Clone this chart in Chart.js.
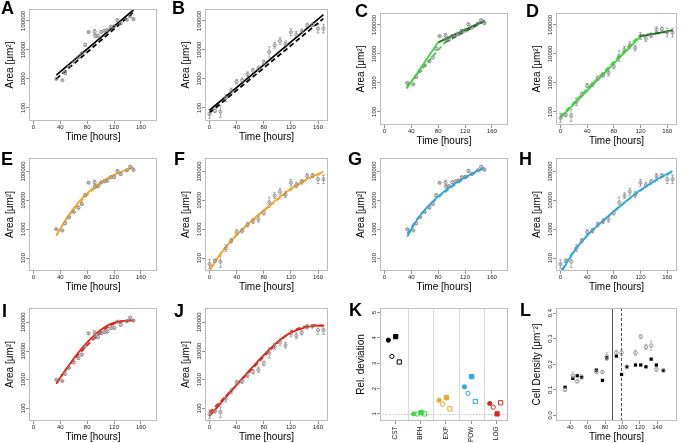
<!DOCTYPE html>
<html><head><meta charset="utf-8"><title>Growth model fits</title>
<script src="https://cdn.jsdelivr.net/npm/chart.js"></script>
<style>
html,body{margin:0;padding:0;background:#fff;overflow:hidden;}
#wrap{position:relative;width:685px;height:443px;overflow:hidden;background:#fff;}
#wrap canvas{position:absolute;}
.plab{position:absolute;font-family:"Liberation Sans",Arial,sans-serif;font-weight:bold;font-size:18px;line-height:18px;color:#000;}
</style></head><body>
<div id="wrap"></div>
<script>
// ---------------- DATA ----------------
const panelLetters = ['A','B','C','D','E','F','G','H','I','J','K','L'];

// data set 1 (panels A, C, E, G, I)
const time1 = [34, 43, 47, 53, 60, 67, 72, 77, 82, 91, 92, 96, 101, 106, 110, 115, 120, 125, 130, 139, 144, 149];
const area1 = [1000, 900, 1600, 2600, 4000, 5600, 7500, 15000, 41000, 42000, 30000, 31000, 42000, 46000, 48000, 63000, 64000, 105000, 82000, 110000, 145000, 115000];
const errLog1 = [0.02, 0.02, 0.04, 0.02, 0.03, 0.04, 0.04, 0.05, 0.03, 0.08, 0.04, 0.04, 0.04, 0.04, 0.04, 0.04, 0.04, 0.04, 0.04, 0.03, 0.04, 0.03];

// data set 2 (panels B, D, F, H, J)
const time2 = [0, 8, 16, 24, 32, 40, 48, 56, 64, 72, 80, 88, 96, 104, 112, 120, 128, 136, 144, 152, 160, 168];
const area2 = [62, 80, 75, 220, 400, 800, 890, 1450, 1900, 2200, 3700, 8500, 14500, 20000, 16000, 41000, 34000, 44000, 70000, 73000, 54000, 54000];
const errLog2 = [0.15, 0.06, 0.2, 0.12, 0.08, 0.08, 0.08, 0.08, 0.08, 0.1, 0.08, 0.18, 0.1, 0.12, 0.1, 0.12, 0.1, 0.08, 0.08, 0.06, 0.15, 0.15];

const areaTickValues = [100, 1000, 10000, 100000];
const areaTickLabels = ['100', '1000', '10000', '100000'];
const timeTickValues = [0, 40, 80, 120, 160];

// fitted curves: [time, area]
const fitCST1 = [[34, 1350], [149, 240000]];
const fitCST1b = [[34, 1000], [149, 200000]];
const fitCST2 = [[0, 83], [168, 165000]];
const fitCST2b = [[0, 68], [168, 120000]];
const fitBPH1p1 = [[33, 640], [80, 25000]];
const fitBPH1p2 = [[80, 25000], [149, 140000]];
const fitBPH1p1b = [[33, 750], [90, 25000]];
const fitBPH1p2b = [[90, 25000], [149, 135000]];
const fitBPH2p1 = [[0, 63], [120, 40000]];
const fitBPH2p2 = [[120, 40000], [168, 66000]];
const fitBPH2p1b = [[0, 70], [118, 42000]];
const fitBPH2p2b = [[118, 42000], [168, 62000]];
const fitEXP1 = [[34, 600], [45, 1660], [55, 3700], [65, 7400], [77, 15100], [90, 28200], [100, 41700], [112, 61700], [124, 85000], [136, 110000], [149, 138000]];
const fitEXP1b = [[34, 630], [45, 1580], [55, 3400], [65, 6600], [77, 13200], [90, 25100], [100, 38000], [112, 57500], [124, 81300], [136, 107000], [149, 138000]];
const fitEXP2 = [[0, 37], [8, 72], [16, 135], [24, 240], [40, 630], [56, 1450], [72, 3160], [88, 6600], [104, 13200], [120, 25100], [144, 55000], [168, 100000]];
const fitEXP2b = [[0, 42], [8, 79], [16, 141], [24, 245], [40, 617], [56, 1380], [72, 2950], [88, 6170], [104, 12300], [120, 23400], [144, 52500], [168, 95500]];
const fitPOW1 = [[34, 560], [45, 1580], [55, 3400], [65, 6300], [77, 12000], [90, 21400], [100, 31600], [112, 49000], [124, 70800], [136, 100000], [149, 138000]];
const fitPOW1b = [[34, 700], [45, 1700], [55, 3400], [65, 6000], [77, 11000], [90, 19500], [100, 29000], [112, 45000], [124, 66000], [136, 93000], [149, 132000]];
const fitPOW2 = [[2, 34], [8, 60], [16, 120], [24, 220], [40, 600], [56, 1350], [72, 2900], [88, 6000], [104, 12000], [120, 23000], [144, 52000], [168, 105000]];
const fitPOW2b = [[2, 38], [8, 66], [16, 128], [24, 230], [40, 610], [56, 1350], [72, 2850], [88, 5800], [104, 11500], [120, 22000], [144, 50000], [168, 100000]];
const fitLOG1 = [[34, 725], [49, 2400], [64, 7240], [80, 19950], [94, 41700], [106, 67600], [118, 93300], [130, 109600], [149, 120000]];
const fitLOG1b = [[34, 760], [49, 2290], [64, 6300], [80, 15800], [94, 33100], [106, 57500], [118, 85100], [130, 104700], [149, 120000]];
const fitLOG2 = [[0, 54], [20, 190], [40, 660], [60, 2240], [80, 7240], [100, 20400], [120, 43700], [140, 66000], [155, 75900], [168, 79400]];
const fitLOG2b = [[0, 71], [20, 214], [40, 660], [60, 2040], [80, 6300], [100, 19000], [120, 45700], [140, 70800], [155, 79400], [168, 74100]];

// panel K: relative deviation per model
const relCategories = ['CST', 'BPH', 'EXP', 'POW', 'LOG'];
const relFilledCircle = [3.91, 1.00, 1.54, 2.07, 1.41];
const relOpenCircle = [3.27, 0.99, 1.38, 1.81, 1.26];
const relFilledSquare = [4.05, 1.05, 1.64, 2.47, 1.00];
const relOpenSquare = [3.05, 1.00, 1.20, 1.49, 1.44];
const relTickValues = [1, 2, 3, 4, 5];
const relReference = 1;

// panel L: cell density
const densTime = [34, 43, 48, 53, 70, 77, 82, 93, 99, 105, 115, 121, 127, 133, 139, 147];
const densBlack = [0.110, 0.145, 0.155, 0.148, 0.177, 0.137, 0.225, 0.232, 0.160, 0.190, 0.197, 0.197, 0.190, 0.220, 0.197, 0.176];
const densGrey = [0.100, 0.155, 0.133, 0.152, 0.170, 0.170, 0.230, 0.245, 0.245, 0.190, 0.245, 0.308, 0.268, 0.273, 0.180, 0.175];
const densGreyErr = [0.005, 0.015, 0.005, 0.005, 0.005, 0.005, 0.015, 0.010, 0.010, 0.005, 0.010, 0.008, 0.010, 0.018, 0.008, 0.005];
const densBreaks = [88, 98];
const densTickValues = [40, 60, 80, 100, 120, 140];
const densYTicks = [0, 0.1, 0.2, 0.3, 0.4];
const densYLabels = ['0.0', '0.1', '0.2', '0.3', '0.4'];

// ---------------- DRAWING ----------------
const FAM = '"Liberation Sans", Arial, Helvetica, sans-serif';
Chart.defaults.font.family = FAM;
Chart.defaults.font.size = 6;
Chart.defaults.color = '#222';

const C_BLACK = '#000000', C_GREEN = '#3cd83c', C_DGREEN = '#1f6e1f', C_ORANGE = '#f2a62c', C_BLUE = '#2aaae2', C_RED = '#e2231f';

const wrap = document.getElementById('wrap');
function mkCanvas(l, t, w, h) {
  const cv = document.createElement('canvas');
  cv.width = w; cv.height = h;
  cv.style.left = l + 'px'; cv.style.top = t + 'px';
  cv.style.width = w + 'px'; cv.style.height = h + 'px';
  wrap.appendChild(cv);
  return cv;
}
const COL_L = [29, 205, 380, 556], COL_R = [157, 328, 508, 677];
function BOX(col, row) {
  let t, b;
  if (row === 0) { t = col < 2 ? 9 : 13; b = t + 112; }
  else if (row === 1) { t = 158; b = 271; }
  else { t = 308; b = 421; }
  return { l: COL_L[col], r: COL_R[col], t, b };
}
const frame = {
  id: 'frame',
  afterDatasetsDraw(ch) {
    const a = ch.chartArea, c = ch.ctx;
    c.save(); c.strokeStyle = '#bdbdbd'; c.lineWidth = 1;
    c.strokeRect(Math.round(a.left) + 0.5, Math.round(a.top) + 0.5, Math.round(a.right - a.left) - 1, Math.round(a.bottom - a.top) - 1);
    c.restore();
  }
};
const errbars = {
  id: 'errbars',
  beforeDatasetsDraw(ch) {
    const c = ch.ctx, xs = ch.scales.x, ys = ch.scales.y, a = ch.chartArea;
    c.save();
    c.beginPath(); c.rect(a.left, a.top, a.right - a.left, a.bottom - a.top); c.clip();
    ch.data.datasets.forEach(ds => {
      if (!ds.errLo) return;
      c.strokeStyle = ds.errColor; c.lineWidth = 0.8;
      ds.data.forEach((p, i) => {
        const x = xs.getPixelForValue(p.x), y1 = ys.getPixelForValue(ds.errLo[i]), y2 = ys.getPixelForValue(ds.errHi[i]);
        c.beginPath();
        c.moveTo(x, y1); c.lineTo(x, y2);
        c.moveTo(x - 1.5, y1); c.lineTo(x + 1.5, y1);
        c.moveTo(x - 1.5, y2); c.lineTo(x + 1.5, y2);
        c.stroke();
      });
    });
    c.restore();
  }
};
function gridCfg() { return { drawOnChartArea: false, drawTicks: true, tickLength: 3, color: '#7a7a7a', lineWidth: 0.8 }; }

function areaPanel(col, row, times, area, errLog, xmax, lines, ymin, ymax) {
  const box = BOX(col, row);
  const cl = box.l - 29, ct = box.t - 9, cw = box.r - cl + 6, ch = box.b - box.t + 9 + 26;
  const cv = mkCanvas(cl, ct, cw, ch);
  const datasets = [{
    data: times.map((t, i) => ({ x: t, y: area[i] })),
    showLine: false, pointRadius: 1.6, pointStyle: 'circle',
    borderColor: '#8a8a8a', backgroundColor: 'rgba(0,0,0,0)', borderWidth: 0.9,
    errLo: area.map((v, i) => v / Math.pow(10, errLog[i])),
    errHi: area.map((v, i) => v * Math.pow(10, errLog[i])),
    errColor: '#9a9a9a'
  }];
  lines.forEach(L => datasets.push({
    data: L.pts.map(p => ({ x: p[0], y: p[1] })),
    showLine: true, pointRadius: 0, borderColor: L.color, borderWidth: 1.8,
    borderDash: L.dash ? [5, 3] : [], cubicInterpolationMode: 'monotone', fill: false
  }));
  new Chart(cv, {
    type: 'scatter',
    data: { datasets },
    options: {
      responsive: false, animation: false, devicePixelRatio: 1,
      layout: { padding: { left: 0, top: 9, right: 6, bottom: 0 } },
      plugins: { legend: { display: false }, tooltip: { enabled: false } },
      scales: {
        x: {
          type: 'linear', min: -6.7, max: xmax,
          afterBuildTicks: s => { s.ticks = timeTickValues.map(v => ({ value: v })); },
          afterFit: s => { s.height = 26; },
          grid: gridCfg(), border: { display: false },
          ticks: { autoSkip: false, maxRotation: 0, padding: 0, font: { size: 6 }, color: '#222', callback: v => String(v) },
          title: { display: true, text: 'Time [hours]', font: { size: 10 }, color: '#000', padding: { top: 0, bottom: 4 } }
        },
        y: {
          type: 'logarithmic', min: ymin, max: ymax,
          afterBuildTicks: s => { s.ticks = areaTickValues.map(v => ({ value: v })); },
          afterFit: s => { s.width = 29; },
          grid: gridCfg(), border: { display: false },
          ticks: { autoSkip: false, minRotation: 90, maxRotation: 90, crossAlign: 'center', padding: -7.3, font: { size: 6 }, color: '#222', callback: (v, i) => areaTickLabels[i] },
          title: { display: true, text: 'Area [μm²]', font: { size: 10 }, color: '#000', padding: { top: 4, bottom: 0 } }
        }
      }
    },
    plugins: [errbars, frame]
  });
}

const YR = [[Math.pow(10, 1.55), Math.pow(10, 5.41)], [Math.pow(10, 1.55), Math.pow(10, 5.47)], [Math.pow(10, 1.56), Math.pow(10, 5.50)]];
const X1 = 184, X2 = 174.72;
const S = (pts, color) => ({ pts, color, dash: false });
const D = (pts, color) => ({ pts, color, dash: true });

areaPanel(0, 0, time1, area1, errLog1, X1, [D(fitCST1b, C_BLACK), S(fitCST1, C_BLACK)], YR[0][0], YR[0][1]);
areaPanel(1, 0, time2, area2, errLog2, X2, [D(fitCST2b, C_BLACK), S(fitCST2, C_BLACK)], YR[0][0], YR[0][1]);
areaPanel(2, 0, time1, area1, errLog1, X1, [D(fitBPH1p1b, C_GREEN), D(fitBPH1p2b, C_DGREEN), S(fitBPH1p1, C_GREEN), S(fitBPH1p2, C_DGREEN)], YR[0][0], YR[0][1]);
areaPanel(3, 0, time2, area2, errLog2, X2, [D(fitBPH2p1b, C_GREEN), D(fitBPH2p2b, C_DGREEN), S(fitBPH2p1, C_GREEN), S(fitBPH2p2, C_DGREEN)], YR[0][0], YR[0][1]);
areaPanel(0, 1, time1, area1, errLog1, X1, [D(fitEXP1b, C_ORANGE), S(fitEXP1, C_ORANGE)], YR[1][0], YR[1][1]);
areaPanel(1, 1, time2, area2, errLog2, X2, [D(fitEXP2b, C_ORANGE), S(fitEXP2, C_ORANGE)], YR[1][0], YR[1][1]);
areaPanel(2, 1, time1, area1, errLog1, X1, [D(fitPOW1b, C_BLUE), S(fitPOW1, C_BLUE)], YR[1][0], YR[1][1]);
areaPanel(3, 1, time2, area2, errLog2, X2, [D(fitPOW2b, C_BLUE), S(fitPOW2, C_BLUE)], YR[1][0], YR[1][1]);
areaPanel(0, 2, time1, area1, errLog1, X1, [D(fitLOG1b, C_RED), S(fitLOG1, C_RED)], YR[2][0], YR[2][1]);
areaPanel(1, 2, time2, area2, errLog2, X2, [D(fitLOG2b, C_RED), S(fitLOG2, C_RED)], YR[2][0], YR[2][1]);

// ---- panel K ----
(function () {
  const box = BOX(2, 2);
  const cl = box.l - 29, ct = box.t - 9, cw = box.r - cl + 6, ch = 443 - ct;
  const cv = mkCanvas(cl, ct, cw, ch);
  const cols = [C_BLACK, C_GREEN, C_ORANGE, C_BLUE, C_RED];
  const mk = (vals, off, style, filled, r) => ({
    data: vals.map((v, i) => ({ x: i + 1 + off, y: v })),
    pointStyle: style, pointRadius: r, borderWidth: 1,
    borderColor: cols, backgroundColor: filled ? cols : 'rgba(255,255,255,0)'
  });
  const guides = {
    id: 'guides',
    beforeDatasetsDraw(chart) {
      const c = chart.ctx, a = chart.chartArea, xs = chart.scales.x, ys = chart.scales.y;
      c.save(); c.strokeStyle = '#d9d9d9'; c.lineWidth = 1;
      for (let i = 1; i < relCategories.length; i++) {
        const x = Math.round(xs.getPixelForValue(i + 0.5)) + 0.5;
        c.beginPath(); c.moveTo(x, a.top); c.lineTo(x, a.bottom); c.stroke();
      }
      c.strokeStyle = '#c8c8c8'; c.setLineDash([1.5, 1.5]);
      const y = Math.round(ys.getPixelForValue(relReference)) + 0.5;
      c.beginPath(); c.moveTo(a.left, y); c.lineTo(a.right, y); c.stroke();
      c.restore();
    }
  };
  new Chart(cv, {
    type: 'scatter',
    data: { datasets: [mk(relFilledCircle, -0.27, 'circle', true, 2.1), mk(relOpenCircle, -0.13, 'circle', false, 2.1), mk(relFilledSquare, 0.02, 'rect', true, 3), mk(relOpenSquare, 0.16, 'rect', false, 3)] },
    options: {
      responsive: false, animation: false, devicePixelRatio: 1,
      layout: { padding: { left: 0, top: 9, right: 6, bottom: 0 } },
      plugins: { legend: { display: false }, tooltip: { enabled: false } },
      scales: {
        x: {
          type: 'linear', min: 0.4, max: 5.45,
          afterBuildTicks: s => { s.ticks = relCategories.map((c, i) => ({ value: i + 1 })); },
          afterFit: s => { s.height = ch - 9 - (box.b - box.t); },
          grid: gridCfg(), border: { display: false },
          ticks: { autoSkip: false, minRotation: 90, maxRotation: 90, padding: 2.5, font: { size: 6.5 }, color: '#222', callback: (v, i) => relCategories[i] }
        },
        y: {
          type: 'linear', min: 0.72, max: 5.18,
          afterBuildTicks: s => { s.ticks = relTickValues.map(v => ({ value: v })); },
          afterFit: s => { s.width = 29; },
          grid: gridCfg(), border: { display: false },
          ticks: { autoSkip: false, minRotation: 90, maxRotation: 90, crossAlign: 'center', padding: 1, font: { size: 6 }, color: '#222', callback: v => String(v) },
          title: { display: true, text: 'Rel. deviation', font: { size: 10 }, color: '#000', padding: { top: 4, bottom: 0 } }
        }
      }
    },
    plugins: [guides, frame]
  });
})();

// ---- panel L ----
(function () {
  const box = { l: 556, r: 677, t: 308, b: 421 };
  const cl = box.l - 29, ct = box.t - 9, cw = box.r - cl + 6, ch = box.b - box.t + 9 + 26;
  const cv = mkCanvas(cl, ct, cw, ch);
  const breaks = {
    id: 'breaks',
    beforeDatasetsDraw(chart) {
      const c = chart.ctx, a = chart.chartArea, xs = chart.scales.x;
      c.save(); c.strokeStyle = '#555'; c.lineWidth = 1;
      densBreaks.forEach((b, i) => {
        const x = Math.round(xs.getPixelForValue(b)) + 0.5;
        c.setLineDash(i === 0 ? [] : [3, 2]);
        c.beginPath(); c.moveTo(x, a.top); c.lineTo(x, a.bottom); c.stroke();
      });
      c.restore();
    }
  };
  new Chart(cv, {
    type: 'scatter',
    data: {
      datasets: [
        {
          data: densTime.map((t, i) => ({ x: t, y: densGrey[i] })),
          pointStyle: 'circle', pointRadius: 1.8, borderWidth: 1, borderColor: '#9a9a9a', backgroundColor: 'rgba(0,0,0,0)',
          errLo: densGrey.map((v, i) => v - densGreyErr[i]), errHi: densGrey.map((v, i) => v + densGreyErr[i]), errColor: '#b0b0b0'
        },
        {
          data: densTime.map((t, i) => ({ x: t, y: densBlack[i] })),
          pointStyle: 'rect', pointRadius: 2.3, borderWidth: 0, backgroundColor: '#000', borderColor: '#000'
        }
      ]
    },
    options: {
      responsive: false, animation: false, devicePixelRatio: 1,
      layout: { padding: { left: 0, top: 9, right: 6, bottom: 0 } },
      plugins: { legend: { display: false }, tooltip: { enabled: false } },
      scales: {
        x: {
          type: 'linear', min: 23.6, max: 162.7,
          afterBuildTicks: s => { s.ticks = densTickValues.map(v => ({ value: v })); },
          afterFit: s => { s.height = 26; },
          grid: gridCfg(), border: { display: false },
          ticks: { autoSkip: false, maxRotation: 0, padding: 0, font: { size: 6 }, color: '#222', callback: v => String(v) },
          title: { display: true, text: 'Time [hours]', font: { size: 10 }, color: '#000', padding: { top: 0, bottom: 4 } }
        },
        y: {
          type: 'linear', min: -0.022, max: 0.42,
          afterBuildTicks: s => { s.ticks = densYTicks.map(v => ({ value: v })); },
          afterFit: s => { s.width = 29; },
          grid: gridCfg(), border: { display: false },
          ticks: { autoSkip: false, minRotation: 90, maxRotation: 90, crossAlign: 'center', padding: -1.5, font: { size: 6 }, color: '#222', callback: (v, i) => densYLabels[i] },
          title: { display: true, text: 'Cell Density [μm⁻²]', font: { size: 10 }, color: '#000', padding: { top: 4, bottom: 0 } }
        }
      }
    },
    plugins: [errbars, breaks, frame]
  });
})();

// panel letters
const letterPos = [[1, 1], [172, 1], [355, 4], [526, 4], [1, 152], [174, 152], [348, 152], [519, 152], [2, 304], [174, 304], [349, 303], [520, 303]];
panelLetters.forEach((L, i) => {
  const d = document.createElement('div');
  d.className = 'plab'; d.textContent = L;
  d.style.left = letterPos[i][0] + 'px'; d.style.top = (letterPos[i][1] - 2.3) + 'px';
  wrap.appendChild(d);
});
</script>
</body></html>
